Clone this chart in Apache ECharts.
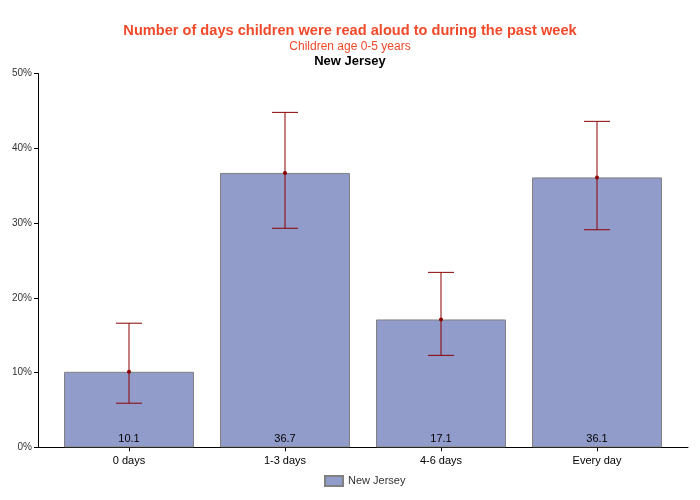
<!DOCTYPE html>
<html><head><meta charset="utf-8">
<script src="https://cdn.jsdelivr.net/npm/echarts@6/dist/echarts.min.js"></script>
<style>html,body{margin:0;padding:0;background:#fff}#c{width:700px;height:500px}</style>
</head><body><div id="c"></div>
<script>
const categories = ["0 days", "1-3 days", "4-6 days", "Every day"];
const values = [10.1, 36.7, 17.1, 36.1];
const lower = [5.9, 29.3, 12.3, 29.1];
const upper = [16.6, 44.8, 23.4, 43.6];
const yTicks = [0, 10, 20, 30, 40, 50];

const chart = echarts.init(document.getElementById('c'), null, {renderer: 'canvas'});
const font = 'Arial, "Liberation Sans", sans-serif';
const errColor = '#8b0000';
const gridTop = 73.5, gridBottom = 52.7;

chart.setOption({
  animation: false,
  title: [
    {text: 'Number of days children were read aloud to during the past week', left: 'center', top: 18,
     textStyle: {color: '#f04a2a', fontSize: 14.6, fontWeight: 'bold', fontFamily: font}},
    {text: 'Children age 0-5 years', left: 'center', top: 36,
     textStyle: {color: '#f04a2a', fontSize: 12, fontWeight: 'normal', fontFamily: font}},
    {text: 'New Jersey', left: 'center', top: 50,
     textStyle: {color: '#000', fontSize: 13, fontWeight: 'bold', fontFamily: font}}
  ],
  legend: {
    bottom: 8, left: 319, data: [{name: 'New Jersey', icon: 'rect'}], itemWidth: 18, itemHeight: 10, itemGap: 5,
    textStyle: {color: '#333', fontSize: 11, fontFamily: font}
  },
  grid: [
    {left: 38, right: 12, top: gridTop, bottom: gridBottom},
    {left: 51, right: 25, top: gridTop, bottom: gridBottom}
  ],
  xAxis: [
    {gridIndex: 0, type: 'value', min: 0, max: 1, axisLine: {show: true, lineStyle: {color: '#000', width: 1}},
     axisTick: {show: false}, axisLabel: {show: false}, splitLine: {show: false}},
    {gridIndex: 1, type: 'category', data: categories, axisLine: {show: false},
     axisTick: {show: true, alignWithLabel: true, length: 4, lineStyle: {color: '#000'}},
     axisLabel: {color: '#000', fontSize: 11, fontFamily: font, margin: 8}}
  ],
  yAxis: [
    {gridIndex: 0, type: 'value', min: 0, max: 50, interval: 10,
     axisLine: {show: true, lineStyle: {color: '#000', width: 1}},
     axisTick: {show: true, length: 4, lineStyle: {color: '#000'}},
     axisLabel: {color: '#333', fontSize: 10, fontFamily: font, margin: 6,
       formatter: v => yTicks.includes(v) ? v + '%' : ''},
     splitLine: {show: false}},
    {gridIndex: 1, type: 'value', min: 0, max: 50, interval: 10, show: false}
  ],
  series: [
    {name: 'New Jersey', type: 'bar', xAxisIndex: 1, yAxisIndex: 1, data: values,
     barCategoryGap: '16.7%',
     itemStyle: {color: '#919ccb', borderColor: '#808080', borderWidth: 1},
     label: {show: true, position: 'insideBottom', distance: 3, color: '#000', fontSize: 11, fontFamily: font,
       formatter: p => p.value.toFixed(1)}},
    {name: 'err', type: 'custom', xAxisIndex: 1, yAxisIndex: 1,
     data: categories.map((c, i) => [i, lower[i], upper[i], values[i]]),
     z: 5,
     renderItem: function (params, api) {
       const x = api.value(0);
       const lo = api.coord([x, api.value(1)]);
       const hi = api.coord([x, api.value(2)]);
       const mid = api.coord([x, api.value(3)]);
       const hw = 13;
       const st = {stroke: errColor, lineWidth: 1};
       return {type: 'group', children: [
         {type: 'line', shape: {x1: lo[0], y1: lo[1], x2: hi[0], y2: hi[1]}, style: st},
         {type: 'line', shape: {x1: hi[0] - hw, y1: hi[1], x2: hi[0] + hw, y2: hi[1]}, style: st},
         {type: 'line', shape: {x1: lo[0] - hw, y1: lo[1], x2: lo[0] + hw, y2: lo[1]}, style: st},
         {type: 'circle', shape: {cx: mid[0], cy: mid[1], r: 2}, style: {fill: errColor}}
       ]};
     }}
  ]
});
</script></body></html>
